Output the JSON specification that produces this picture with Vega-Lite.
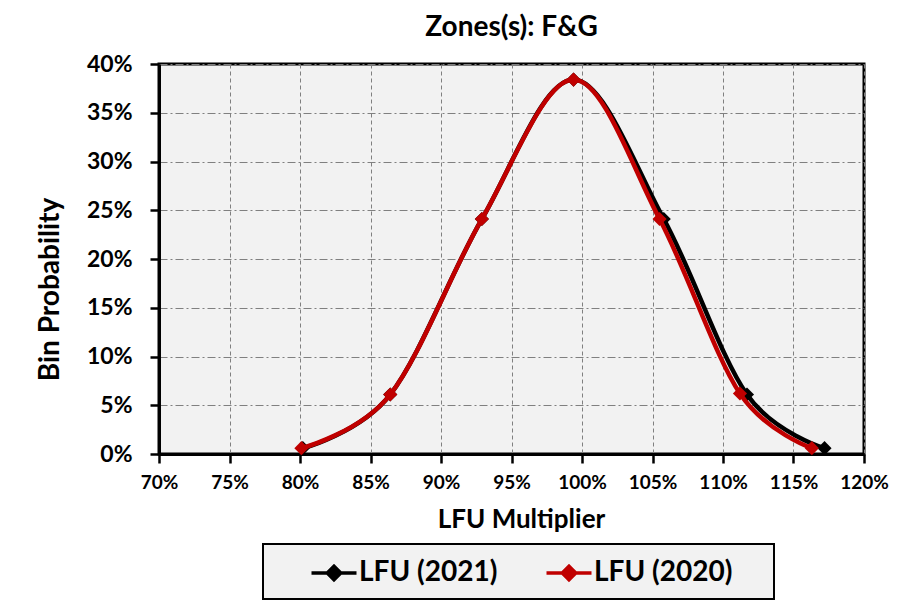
{
  "$schema": "https://vega.github.io/schema/vega-lite/v6.json",
  "autosize": "none",
  "width": 705,
  "height": 390,
  "padding": {"left": 159, "top": 64, "right": 37, "bottom": 162},
  "background": "white",
  "title": {
    "text": "Zones(s): F&G",
    "anchor": "middle",
    "font": "Lato",
    "fontSize": 28,
    "fontWeight": "bold",
    "color": "black",
    "offset": 11
  },
  "data": {
    "values": [
      {"series": "LFU (2021)", "mult": 0.802, "prob": 0.006},
      {"series": "LFU (2021)", "mult": 0.864, "prob": 0.061},
      {"series": "LFU (2021)", "mult": 0.929, "prob": 0.241},
      {"series": "LFU (2021)", "mult": 0.994, "prob": 0.384},
      {"series": "LFU (2021)", "mult": 1.058, "prob": 0.241},
      {"series": "LFU (2021)", "mult": 1.117, "prob": 0.061},
      {"series": "LFU (2021)", "mult": 1.172, "prob": 0.006},
      {"series": "LFU (2020)", "mult": 0.801, "prob": 0.006},
      {"series": "LFU (2020)", "mult": 0.864, "prob": 0.061},
      {"series": "LFU (2020)", "mult": 0.929, "prob": 0.241},
      {"series": "LFU (2020)", "mult": 0.994, "prob": 0.384},
      {"series": "LFU (2020)", "mult": 1.055, "prob": 0.241},
      {"series": "LFU (2020)", "mult": 1.112, "prob": 0.062},
      {"series": "LFU (2020)", "mult": 1.163, "prob": 0.006}
    ]
  },
  "encoding": {
    "x": {
      "field": "mult", "type": "quantitative",
      "scale": {"domain": [0.7, 1.2], "nice": false, "zero": false},
      "axis": {
        "title": "LFU Multiplier",
        "format": ".0%",
        "values": [0.7, 0.75, 0.8, 0.85, 0.9, 0.95, 1.0, 1.05, 1.1, 1.15, 1.2],
        "labelOverlap": false,
        "labelFlush": false,
        "gridDash": [4, 3],
        "labelFontSize": 19,
        "labelPadding": 10,
        "titlePadding": 14,
        "titleX": 362
      }
    },
    "y": {
      "field": "prob", "type": "quantitative",
      "scale": {"domain": [0, 0.4], "nice": false},
      "axis": {
        "title": "Bin Probability",
        "format": ".0%",
        "values": [0, 0.05, 0.1, 0.15, 0.2, 0.25, 0.3, 0.35, 0.4],
        "labelOverlap": false,
        "labelFlush": false,
        "gridDash": [8, 3, 2, 3],
        "labelFontSize": 23,
        "labelPadding": 18,
        "titlePadding": 22,
        "titleFontSize": 28,
        "titleY": 225
      }
    },
    "color": {
      "field": "series", "type": "nominal",
      "scale": {"domain": ["LFU (2021)", "LFU (2020)"], "range": ["#000000", "#c00000"]},
      "legend": {
        "title": " ",
        "titleOrient": "right",
        "titlePadding": 30,
        "titleFontSize": 10,
        "orient": "none",
        "legendX": 104,
        "legendY": 480,
        "direction": "horizontal",
        "fillColor": "#f2f2f2",
        "strokeColor": "#000000",
        "padding": 12,
        "symbolOffset": 42,
        "symbolType": "M-1.5,0L1.5,0M0,-0.45L0.45,0L0,0.45L-0.45,0Z",
        "symbolSize": 900,
        "symbolStrokeWidth": 3.5,
        "labelFont": "Lato",
        "labelFontSize": 28,
        "labelFontWeight": "bold",
        "labelColor": "black",
        "labelOffset": 8,
        "columnPadding": 12,
        "labelLimit": 300,
        "encode": {
          "legend": {"update": {"strokeWidth": {"value": 2}}},
          "symbols": {"update": {"fill": {"scale": "color", "field": "value"}, "stroke": {"scale": "color", "field": "value"}, "opacity": {"value": 1}}}
        }
      }
    }
  },
  "layer": [
    {
      "transform": [{"filter": "datum.series === 'LFU (2021)'"}],
      "mark": {"type": "line", "interpolate": "cardinal", "tension": 0, "strokeWidth": 4.5}
    },
    {
      "transform": [{"filter": "datum.series === 'LFU (2021)'"}],
      "mark": {"type": "point", "shape": "diamond", "filled": true, "size": 200, "opacity": 1}
    },
    {
      "transform": [{"filter": "datum.series === 'LFU (2020)'"}],
      "mark": {"type": "line", "interpolate": "cardinal", "tension": 0, "strokeWidth": 4.5}
    },
    {
      "transform": [{"filter": "datum.series === 'LFU (2020)'"}],
      "mark": {"type": "point", "shape": "diamond", "filled": true, "size": 200, "opacity": 1}
    }
  ],
  "config": {
    "font": "Lato",
    "view": {"fill": "#f2f2f2", "stroke": "#000000", "strokeWidth": 3},
    "axis": {
      "labelFont": "Lato",
      "labelFontWeight": "bold",
      "labelColor": "black",
      "titleFont": "Lato",
      "titleFontSize": 26,
      "titleFontWeight": "bold",
      "titleColor": "black",
      "domainColor": "black",
      "domainWidth": 3,
      "tickColor": "black",
      "tickWidth": 2.5,
      "tickSize": 9,
      "gridColor": "#808080",
      "gridWidth": 1,
      "gridOpacity": 1
    }
  }
}
